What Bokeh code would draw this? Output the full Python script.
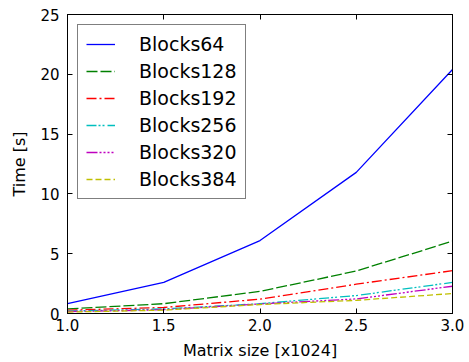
from bokeh.plotting import figure
from bokeh.models import LinearAxis, FixedTicker, Range1d, Legend, LegendItem
from bokeh.embed import file_html
from bokeh.resources import INLINE

sizes = [1.0, 1.5, 2.0, 2.5, 3.0]
blocks64 = [0.83, 2.6, 6.1, 11.8, 20.4]
blocks128 = [0.38, 0.82, 1.85, 3.55, 6.05]
blocks192 = [0.28, 0.5, 1.2, 2.45, 3.58]
blocks256 = [0.2, 0.38, 0.82, 1.5, 2.6]
blocks320 = [0.15, 0.32, 0.8, 1.22, 2.28]
blocks384 = [0.12, 0.28, 0.75, 1.1, 1.67]
names = ["Blocks64", "Blocks128", "Blocks192", "Blocks256", "Blocks320", "Blocks384"]
x_ticks = [1.0, 1.5, 2.0, 2.5, 3.0]
y_ticks = [0, 5, 10, 15, 20, 25]

series = [blocks64, blocks128, blocks192, blocks256, blocks320, blocks384]
colors = ["#0000ff", "#008000", "#ff0000", "#00bfbf", "#bf00bf", "#bfbf00"]
dashes = ["solid", "11 3", "10 3 2 3", "10 2 2 2 2 3", "11 2 2 2 2 2 2 2 2 2", "6 3"]

FONT = "DejaVu Sans"

p = figure(width=469, height=362, output_backend="svg", toolbar_location=None,
           x_range=Range1d(1.0, 3.0), y_range=Range1d(0, 25),
           min_border_left=67, min_border_right=17, min_border_top=14, min_border_bottom=48)
p.background_fill_color = "white"
p.border_fill_color = "white"
p.grid.visible = False
p.outline_line_color = "black"
p.outline_line_width = 1

items = []
for name, ys, c, d in zip(names, series, colors, dashes):
    r = p.line(sizes, ys, line_color=c, line_width=1.3, line_dash=d)
    items.append(LegendItem(label=name, renderers=[r]))

def style_axis(ax, show_labels=True):
    ax.major_tick_in = 5
    ax.major_tick_out = 0
    ax.minor_tick_line_color = None
    ax.axis_line_color = "black"
    ax.major_tick_line_color = "black"
    ax.axis_label_text_font = FONT
    ax.axis_label_text_font_size = "16px"
    ax.axis_label_text_font_style = "normal"
    ax.axis_label_text_color = "black"
    ax.major_label_text_font = FONT
    if show_labels:
        ax.major_label_text_color = "black"
        ax.major_label_text_font_size = "15px"
    else:
        ax.major_label_text_color = None
        ax.major_label_text_font_size = "1px"

p.xaxis.ticker = FixedTicker(ticks=x_ticks)
p.yaxis.ticker = FixedTicker(ticks=y_ticks)
p.xaxis.major_label_overrides = {t: f"{t:.1f}" for t in x_ticks}
style_axis(p.xaxis[0])
style_axis(p.yaxis[0])
p.xaxis.axis_label = "Matrix size [x1024]"
p.yaxis.axis_label = "Time [s]"
p.xaxis.major_label_standoff = 5
p.yaxis.major_label_standoff = 8
p.xaxis.axis_label_standoff = 7
p.yaxis.axis_label_standoff = 8

top = LinearAxis(ticker=FixedTicker(ticks=x_ticks))
style_axis(top, show_labels=False)
top.major_label_standoff = 0
p.add_layout(top, "above")
right = LinearAxis(ticker=FixedTicker(ticks=y_ticks))
style_axis(right, show_labels=False)
right.major_label_standoff = 0
p.add_layout(right, "right")

legend = Legend(items=items, location="top_left")
legend.margin = 10
legend.padding = 8
legend.spacing = 5
legend.glyph_width = 29
legend.glyph_height = 22
legend.label_height = 22
legend.label_standoff = 24
legend.label_text_font = FONT
legend.label_text_font_size = "19px"
legend.label_text_color = "black"
legend.border_line_color = "black"
legend.border_line_width = 1
legend.background_fill_color = "white"
legend.background_fill_alpha = 1
p.add_layout(legend)

open("out.html", "w").write(file_html(p, INLINE))
